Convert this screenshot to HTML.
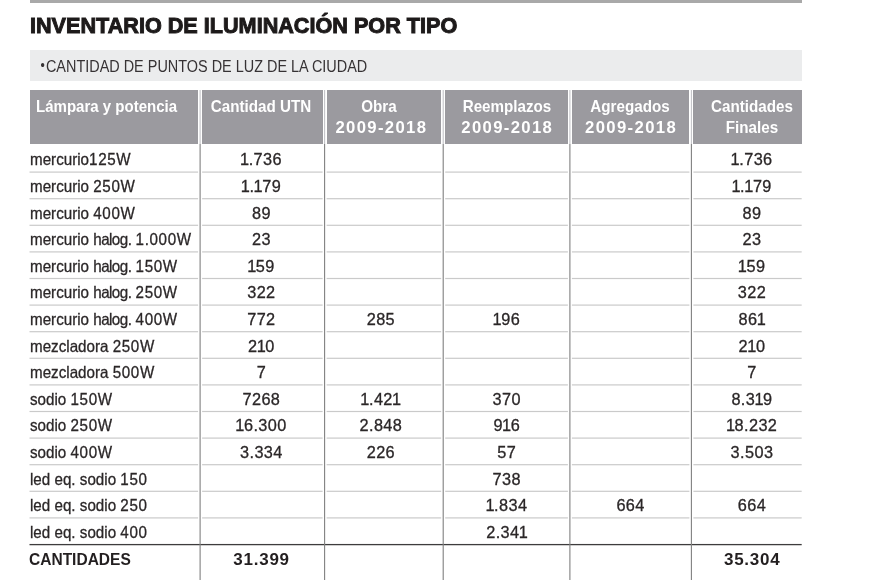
<!DOCTYPE html>
<html><head><meta charset="utf-8"><style>
*{margin:0;padding:0;box-sizing:border-box}
html,body{width:870px;height:580px;background:#fff;overflow:hidden;position:relative}
#w{position:absolute;left:0;top:0;width:870px;height:580px;will-change:transform}
body{font-family:"Liberation Sans",Arial,sans-serif}
.a{position:absolute;line-height:1;white-space:nowrap}
.c{width:200px;text-align:center}
.bar{left:30px;top:0;width:772px;height:3px;background:#a9a9a9}
.title{font-weight:bold;color:#1d1a1a;transform-origin:0 0;-webkit-text-stroke:1px #1d1a1a}
.sub{left:30px;top:50.4px;width:772px;height:30.4px;background:#ebeced}
.subt{color:#363234;transform-origin:0 0}
.hc{top:90px;height:53.8px;background:#9b9a9f}
.ht{color:#fff;font-weight:bold}
.t{color:#2b2728;-webkit-text-stroke:0.3px #2b2728}
.one{margin-left:-0.8px;margin-right:-0.8px}
.bu{display:inline-block;transform:translateY(-1.3px) scale(0.85);margin-right:1px}
.d{letter-spacing:0.7px}
.hg{letter-spacing:-0.6px}
.tot{font-weight:bold;color:#231f20}
</style></head><body><div id="w">
<div class="a bar"></div>
<div class="a sub"></div>

<div class="a title" style="left:30.00px;top:14.80px;font-size:22.5px;transform:scaleX(0.961);">INVENTARIO DE ILUMINACIÓN POR TIPO</div>
<div class="a subt" style="left:39.50px;top:58.80px;font-size:16.8px;transform:scaleX(0.86);"><span class="bu">•</span>CANTIDAD DE PUNTOS DE LUZ DE LA CIUDAD</div>
<div class="a hc" style="left:29.50px;width:168.60px"></div>
<div class="a hc" style="left:202.10px;width:120.50px"></div>
<div class="a hc" style="left:326.60px;width:114.60px"></div>
<div class="a hc" style="left:445.20px;width:122.70px"></div>
<div class="a hc" style="left:571.90px;width:117.50px"></div>
<div class="a hc" style="left:693.40px;width:108.30px"></div>
<div class="a ht" style="left:36.00px;top:99.10px;font-size:16.7px;transform:scaleX(0.9);transform-origin:0 0">Lámpara y potencia</div>
<div class="a ht c" style="left:161.00px;top:99.10px;font-size:16.7px;transform:scaleX(0.91);">Cantidad UTN</div>
<div class="a ht c" style="left:278.90px;top:99.10px;font-size:16.7px;transform:scaleX(0.91);">Obra</div>
<div class="a ht c" style="left:280.70px;top:119.50px;font-size:16.7px;letter-spacing:1.35px;text-indent:1.35px">2009-2018</div>
<div class="a ht c" style="left:406.60px;top:99.10px;font-size:16.7px;transform:scaleX(0.91);">Reemplazos</div>
<div class="a ht c" style="left:406.60px;top:119.50px;font-size:16.7px;letter-spacing:1.35px;text-indent:1.35px">2009-2018</div>
<div class="a ht c" style="left:530.40px;top:99.10px;font-size:16.7px;transform:scaleX(0.91);">Agregados</div>
<div class="a ht c" style="left:530.40px;top:119.50px;font-size:16.7px;letter-spacing:1.35px;text-indent:1.35px">2009-2018</div>
<div class="a ht c" style="left:651.80px;top:99.10px;font-size:16.7px;transform:scaleX(0.91);">Cantidades</div>
<div class="a ht c" style="left:651.80px;top:119.80px;font-size:16.7px;transform:scaleX(0.91);">Finales</div>
<div class="a t" style="left:30.00px;top:151.30px;font-size:16.5px;transform:scaleX(0.92);transform-origin:0 0">mercurio<span class="d">125</span>W</div>
<div class="a t c" style="left:161.20px;top:151.30px;font-size:16.3px;letter-spacing:0.4px;text-indent:0.4px"><span class="one">1</span>.736</div>
<div class="a t c" style="left:651.80px;top:151.30px;font-size:16.3px;letter-spacing:0.4px;text-indent:0.4px"><span class="one">1</span>.736</div>
<div class="a t" style="left:30.00px;top:177.90px;font-size:16.5px;transform:scaleX(0.92);transform-origin:0 0">mercurio <span class="d">250</span>W</div>
<div class="a t c" style="left:161.20px;top:177.90px;font-size:16.3px;letter-spacing:0.4px;text-indent:0.4px"><span class="one">1</span>.<span class="one">1</span>79</div>
<div class="a t c" style="left:651.80px;top:177.90px;font-size:16.3px;letter-spacing:0.4px;text-indent:0.4px"><span class="one">1</span>.<span class="one">1</span>79</div>
<div class="a t" style="left:30.00px;top:204.50px;font-size:16.5px;transform:scaleX(0.92);transform-origin:0 0">mercurio <span class="d">400</span>W</div>
<div class="a t c" style="left:161.20px;top:204.50px;font-size:16.3px;letter-spacing:0.4px;text-indent:0.4px">89</div>
<div class="a t c" style="left:651.80px;top:204.50px;font-size:16.3px;letter-spacing:0.4px;text-indent:0.4px">89</div>
<div class="a t" style="left:30.00px;top:231.10px;font-size:16.5px;transform:scaleX(0.92);transform-origin:0 0">mercurio <span class="hg">halog.</span> <span class="d">1.000</span>W</div>
<div class="a t c" style="left:161.20px;top:231.10px;font-size:16.3px;letter-spacing:0.4px;text-indent:0.4px">23</div>
<div class="a t c" style="left:651.80px;top:231.10px;font-size:16.3px;letter-spacing:0.4px;text-indent:0.4px">23</div>
<div class="a t" style="left:30.00px;top:257.70px;font-size:16.5px;transform:scaleX(0.92);transform-origin:0 0">mercurio <span class="hg">halog.</span> <span class="d">150</span>W</div>
<div class="a t c" style="left:161.20px;top:257.70px;font-size:16.3px;letter-spacing:0.4px;text-indent:0.4px"><span class="one">1</span>59</div>
<div class="a t c" style="left:651.80px;top:257.70px;font-size:16.3px;letter-spacing:0.4px;text-indent:0.4px"><span class="one">1</span>59</div>
<div class="a t" style="left:30.00px;top:284.30px;font-size:16.5px;transform:scaleX(0.92);transform-origin:0 0">mercurio <span class="hg">halog.</span> <span class="d">250</span>W</div>
<div class="a t c" style="left:161.20px;top:284.30px;font-size:16.3px;letter-spacing:0.4px;text-indent:0.4px">322</div>
<div class="a t c" style="left:651.80px;top:284.30px;font-size:16.3px;letter-spacing:0.4px;text-indent:0.4px">322</div>
<div class="a t" style="left:30.00px;top:310.90px;font-size:16.5px;transform:scaleX(0.92);transform-origin:0 0">mercurio <span class="hg">halog.</span> <span class="d">400</span>W</div>
<div class="a t c" style="left:161.20px;top:310.90px;font-size:16.3px;letter-spacing:0.4px;text-indent:0.4px">772</div>
<div class="a t c" style="left:280.70px;top:310.90px;font-size:16.3px;letter-spacing:0.4px;text-indent:0.4px">285</div>
<div class="a t c" style="left:406.60px;top:310.90px;font-size:16.3px;letter-spacing:0.4px;text-indent:0.4px"><span class="one">1</span>96</div>
<div class="a t c" style="left:651.80px;top:310.90px;font-size:16.3px;letter-spacing:0.4px;text-indent:0.4px">86<span class="one">1</span></div>
<div class="a t" style="left:30.00px;top:337.50px;font-size:16.5px;transform:scaleX(0.92);transform-origin:0 0">mezcladora <span class="d">250</span>W</div>
<div class="a t c" style="left:161.20px;top:337.50px;font-size:16.3px;letter-spacing:0.4px;text-indent:0.4px">2<span class="one">1</span>0</div>
<div class="a t c" style="left:651.80px;top:337.50px;font-size:16.3px;letter-spacing:0.4px;text-indent:0.4px">2<span class="one">1</span>0</div>
<div class="a t" style="left:30.00px;top:364.10px;font-size:16.5px;transform:scaleX(0.92);transform-origin:0 0">mezcladora <span class="d">500</span>W</div>
<div class="a t c" style="left:161.20px;top:364.10px;font-size:16.3px;letter-spacing:0.4px;text-indent:0.4px">7</div>
<div class="a t c" style="left:651.80px;top:364.10px;font-size:16.3px;letter-spacing:0.4px;text-indent:0.4px">7</div>
<div class="a t" style="left:30.00px;top:390.70px;font-size:16.5px;transform:scaleX(0.92);transform-origin:0 0">sodio <span class="d">150</span>W</div>
<div class="a t c" style="left:161.20px;top:390.70px;font-size:16.3px;letter-spacing:0.4px;text-indent:0.4px">7268</div>
<div class="a t c" style="left:280.70px;top:390.70px;font-size:16.3px;letter-spacing:0.4px;text-indent:0.4px"><span class="one">1</span>.42<span class="one">1</span></div>
<div class="a t c" style="left:406.60px;top:390.70px;font-size:16.3px;letter-spacing:0.4px;text-indent:0.4px">370</div>
<div class="a t c" style="left:651.80px;top:390.70px;font-size:16.3px;letter-spacing:0.4px;text-indent:0.4px">8.3<span class="one">1</span>9</div>
<div class="a t" style="left:30.00px;top:417.30px;font-size:16.5px;transform:scaleX(0.92);transform-origin:0 0">sodio <span class="d">250</span>W</div>
<div class="a t c" style="left:161.20px;top:417.30px;font-size:16.3px;letter-spacing:0.4px;text-indent:0.4px"><span class="one">1</span>6.300</div>
<div class="a t c" style="left:280.70px;top:417.30px;font-size:16.3px;letter-spacing:0.4px;text-indent:0.4px">2.848</div>
<div class="a t c" style="left:406.60px;top:417.30px;font-size:16.3px;letter-spacing:0.4px;text-indent:0.4px">9<span class="one">1</span>6</div>
<div class="a t c" style="left:651.80px;top:417.30px;font-size:16.3px;letter-spacing:0.4px;text-indent:0.4px"><span class="one">1</span>8.232</div>
<div class="a t" style="left:30.00px;top:443.90px;font-size:16.5px;transform:scaleX(0.92);transform-origin:0 0">sodio <span class="d">400</span>W</div>
<div class="a t c" style="left:161.20px;top:443.90px;font-size:16.3px;letter-spacing:0.4px;text-indent:0.4px">3.334</div>
<div class="a t c" style="left:280.70px;top:443.90px;font-size:16.3px;letter-spacing:0.4px;text-indent:0.4px">226</div>
<div class="a t c" style="left:406.60px;top:443.90px;font-size:16.3px;letter-spacing:0.4px;text-indent:0.4px">57</div>
<div class="a t c" style="left:651.80px;top:443.90px;font-size:16.3px;letter-spacing:0.4px;text-indent:0.4px">3.503</div>
<div class="a t" style="left:30.00px;top:470.50px;font-size:16.5px;transform:scaleX(0.92);transform-origin:0 0">led eq. sodio <span class="d">150</span></div>
<div class="a t c" style="left:406.60px;top:470.50px;font-size:16.3px;letter-spacing:0.4px;text-indent:0.4px">738</div>
<div class="a t" style="left:30.00px;top:497.10px;font-size:16.5px;transform:scaleX(0.92);transform-origin:0 0">led eq. sodio <span class="d">250</span></div>
<div class="a t c" style="left:406.60px;top:497.10px;font-size:16.3px;letter-spacing:0.4px;text-indent:0.4px"><span class="one">1</span>.834</div>
<div class="a t c" style="left:530.40px;top:497.10px;font-size:16.3px;letter-spacing:0.4px;text-indent:0.4px">664</div>
<div class="a t c" style="left:651.80px;top:497.10px;font-size:16.3px;letter-spacing:0.4px;text-indent:0.4px">664</div>
<div class="a t" style="left:30.00px;top:523.70px;font-size:16.5px;transform:scaleX(0.92);transform-origin:0 0">led eq. sodio <span class="d">400</span></div>
<div class="a t c" style="left:406.60px;top:523.70px;font-size:16.3px;letter-spacing:0.4px;text-indent:0.4px">2.34<span class="one">1</span></div>
<div class="a tot" style="left:28.60px;top:550.60px;font-size:17px;transform:scaleX(0.913);transform-origin:0 0">CANTIDADES</div>
<div class="a tot c" style="left:161.20px;top:550.80px;font-size:17px;letter-spacing:0.75px;text-indent:0.75px">31.399</div>
<div class="a tot c" style="left:651.80px;top:550.80px;font-size:17px;letter-spacing:0.75px;text-indent:0.75px">35.304</div>
<svg class="a" style="left:0;top:0" width="870" height="580" viewBox="0 0 870 580"><rect x="29.50" y="171.50" width="168.60" height="1.2" fill="#cacaca"/><rect x="202.10" y="171.50" width="120.50" height="1.2" fill="#cacaca"/><rect x="326.60" y="171.50" width="114.60" height="1.2" fill="#cacaca"/><rect x="445.20" y="171.50" width="122.70" height="1.2" fill="#cacaca"/><rect x="571.90" y="171.50" width="117.50" height="1.2" fill="#cacaca"/><rect x="693.40" y="171.50" width="108.30" height="1.2" fill="#cacaca"/><rect x="29.50" y="198.10" width="168.60" height="1.2" fill="#cacaca"/><rect x="202.10" y="198.10" width="120.50" height="1.2" fill="#cacaca"/><rect x="326.60" y="198.10" width="114.60" height="1.2" fill="#cacaca"/><rect x="445.20" y="198.10" width="122.70" height="1.2" fill="#cacaca"/><rect x="571.90" y="198.10" width="117.50" height="1.2" fill="#cacaca"/><rect x="693.40" y="198.10" width="108.30" height="1.2" fill="#cacaca"/><rect x="29.50" y="224.70" width="168.60" height="1.2" fill="#cacaca"/><rect x="202.10" y="224.70" width="120.50" height="1.2" fill="#cacaca"/><rect x="326.60" y="224.70" width="114.60" height="1.2" fill="#cacaca"/><rect x="445.20" y="224.70" width="122.70" height="1.2" fill="#cacaca"/><rect x="571.90" y="224.70" width="117.50" height="1.2" fill="#cacaca"/><rect x="693.40" y="224.70" width="108.30" height="1.2" fill="#cacaca"/><rect x="29.50" y="251.30" width="168.60" height="1.2" fill="#cacaca"/><rect x="202.10" y="251.30" width="120.50" height="1.2" fill="#cacaca"/><rect x="326.60" y="251.30" width="114.60" height="1.2" fill="#cacaca"/><rect x="445.20" y="251.30" width="122.70" height="1.2" fill="#cacaca"/><rect x="571.90" y="251.30" width="117.50" height="1.2" fill="#cacaca"/><rect x="693.40" y="251.30" width="108.30" height="1.2" fill="#cacaca"/><rect x="29.50" y="277.90" width="168.60" height="1.2" fill="#cacaca"/><rect x="202.10" y="277.90" width="120.50" height="1.2" fill="#cacaca"/><rect x="326.60" y="277.90" width="114.60" height="1.2" fill="#cacaca"/><rect x="445.20" y="277.90" width="122.70" height="1.2" fill="#cacaca"/><rect x="571.90" y="277.90" width="117.50" height="1.2" fill="#cacaca"/><rect x="693.40" y="277.90" width="108.30" height="1.2" fill="#cacaca"/><rect x="29.50" y="304.50" width="168.60" height="1.2" fill="#cacaca"/><rect x="202.10" y="304.50" width="120.50" height="1.2" fill="#cacaca"/><rect x="326.60" y="304.50" width="114.60" height="1.2" fill="#cacaca"/><rect x="445.20" y="304.50" width="122.70" height="1.2" fill="#cacaca"/><rect x="571.90" y="304.50" width="117.50" height="1.2" fill="#cacaca"/><rect x="693.40" y="304.50" width="108.30" height="1.2" fill="#cacaca"/><rect x="29.50" y="331.10" width="168.60" height="1.2" fill="#cacaca"/><rect x="202.10" y="331.10" width="120.50" height="1.2" fill="#cacaca"/><rect x="326.60" y="331.10" width="114.60" height="1.2" fill="#cacaca"/><rect x="445.20" y="331.10" width="122.70" height="1.2" fill="#cacaca"/><rect x="571.90" y="331.10" width="117.50" height="1.2" fill="#cacaca"/><rect x="693.40" y="331.10" width="108.30" height="1.2" fill="#cacaca"/><rect x="29.50" y="357.70" width="168.60" height="1.2" fill="#cacaca"/><rect x="202.10" y="357.70" width="120.50" height="1.2" fill="#cacaca"/><rect x="326.60" y="357.70" width="114.60" height="1.2" fill="#cacaca"/><rect x="445.20" y="357.70" width="122.70" height="1.2" fill="#cacaca"/><rect x="571.90" y="357.70" width="117.50" height="1.2" fill="#cacaca"/><rect x="693.40" y="357.70" width="108.30" height="1.2" fill="#cacaca"/><rect x="29.50" y="384.30" width="168.60" height="1.2" fill="#cacaca"/><rect x="202.10" y="384.30" width="120.50" height="1.2" fill="#cacaca"/><rect x="326.60" y="384.30" width="114.60" height="1.2" fill="#cacaca"/><rect x="445.20" y="384.30" width="122.70" height="1.2" fill="#cacaca"/><rect x="571.90" y="384.30" width="117.50" height="1.2" fill="#cacaca"/><rect x="693.40" y="384.30" width="108.30" height="1.2" fill="#cacaca"/><rect x="29.50" y="410.90" width="168.60" height="1.2" fill="#cacaca"/><rect x="202.10" y="410.90" width="120.50" height="1.2" fill="#cacaca"/><rect x="326.60" y="410.90" width="114.60" height="1.2" fill="#cacaca"/><rect x="445.20" y="410.90" width="122.70" height="1.2" fill="#cacaca"/><rect x="571.90" y="410.90" width="117.50" height="1.2" fill="#cacaca"/><rect x="693.40" y="410.90" width="108.30" height="1.2" fill="#cacaca"/><rect x="29.50" y="437.50" width="168.60" height="1.2" fill="#cacaca"/><rect x="202.10" y="437.50" width="120.50" height="1.2" fill="#cacaca"/><rect x="326.60" y="437.50" width="114.60" height="1.2" fill="#cacaca"/><rect x="445.20" y="437.50" width="122.70" height="1.2" fill="#cacaca"/><rect x="571.90" y="437.50" width="117.50" height="1.2" fill="#cacaca"/><rect x="693.40" y="437.50" width="108.30" height="1.2" fill="#cacaca"/><rect x="29.50" y="464.10" width="168.60" height="1.2" fill="#cacaca"/><rect x="202.10" y="464.10" width="120.50" height="1.2" fill="#cacaca"/><rect x="326.60" y="464.10" width="114.60" height="1.2" fill="#cacaca"/><rect x="445.20" y="464.10" width="122.70" height="1.2" fill="#cacaca"/><rect x="571.90" y="464.10" width="117.50" height="1.2" fill="#cacaca"/><rect x="693.40" y="464.10" width="108.30" height="1.2" fill="#cacaca"/><rect x="29.50" y="490.70" width="168.60" height="1.2" fill="#cacaca"/><rect x="202.10" y="490.70" width="120.50" height="1.2" fill="#cacaca"/><rect x="326.60" y="490.70" width="114.60" height="1.2" fill="#cacaca"/><rect x="445.20" y="490.70" width="122.70" height="1.2" fill="#cacaca"/><rect x="571.90" y="490.70" width="117.50" height="1.2" fill="#cacaca"/><rect x="693.40" y="490.70" width="108.30" height="1.2" fill="#cacaca"/><rect x="29.50" y="517.30" width="168.60" height="1.2" fill="#cacaca"/><rect x="202.10" y="517.30" width="120.50" height="1.2" fill="#cacaca"/><rect x="326.60" y="517.30" width="114.60" height="1.2" fill="#cacaca"/><rect x="445.20" y="517.30" width="122.70" height="1.2" fill="#cacaca"/><rect x="571.90" y="517.30" width="117.50" height="1.2" fill="#cacaca"/><rect x="693.40" y="517.30" width="108.30" height="1.2" fill="#cacaca"/><rect x="29.5" y="543.95" width="772.20" height="1.3" fill="#3e3c3d"/><rect x="199.55" y="90" width="1.1" height="54" fill="#c4c4c8"/><rect x="199.55" y="144" width="1.1" height="436" fill="#808080"/><rect x="324.05" y="90" width="1.1" height="54" fill="#c4c4c8"/><rect x="324.05" y="144" width="1.1" height="436" fill="#808080"/><rect x="442.65" y="90" width="1.1" height="54" fill="#c4c4c8"/><rect x="442.65" y="144" width="1.1" height="436" fill="#808080"/><rect x="569.35" y="90" width="1.1" height="54" fill="#c4c4c8"/><rect x="569.35" y="144" width="1.1" height="436" fill="#808080"/><rect x="690.85" y="90" width="1.1" height="54" fill="#c4c4c8"/><rect x="690.85" y="144" width="1.1" height="436" fill="#808080"/></svg>
</div></body></html>
